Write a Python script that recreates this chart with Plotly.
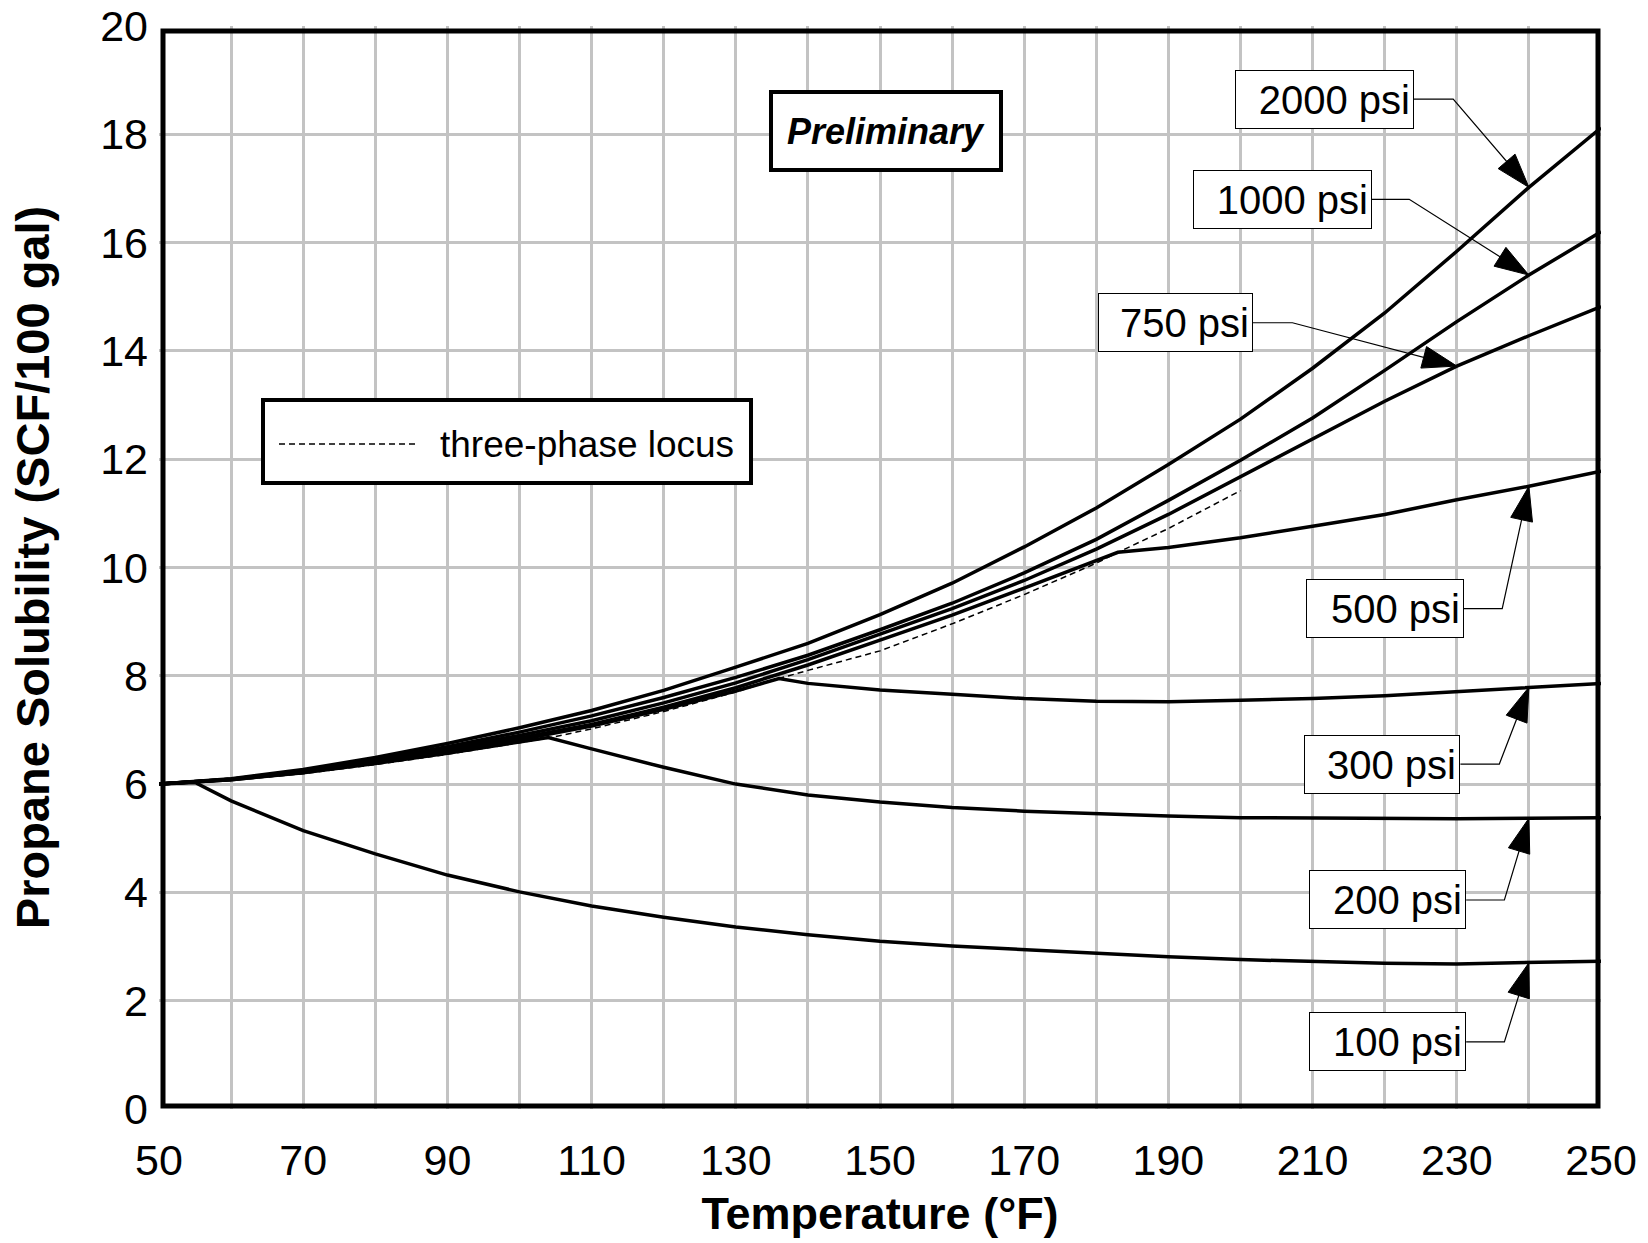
import numpy as np
import plotly.graph_objects as go

# ---------------- data ----------------
temps = [50, 60, 70, 80, 90, 100, 110, 120, 130, 140, 150, 160, 170, 180, 190, 200, 210, 220, 230, 240, 250]

sol_2000 = [6.0, 6.1, 6.27, 6.49, 6.75, 7.04, 7.36, 7.73, 8.16, 8.6, 9.13, 9.71, 10.38, 11.1, 11.9, 12.74, 13.68, 14.7, 15.84, 17.02, 18.12]
sol_1000 = [6.0, 6.09, 6.25, 6.45, 6.69, 6.96, 7.26, 7.6, 7.97, 8.38, 8.85, 9.34, 9.9, 10.52, 11.24, 11.98, 12.76, 13.64, 14.54, 15.4, 16.2]
sol_750 = [6.0, 6.09, 6.24, 6.43, 6.65, 6.9, 7.17, 7.5, 7.87, 8.3, 8.77, 9.24, 9.76, 10.34, 10.98, 11.68, 12.37, 13.07, 13.72, 14.28, 14.82]

t_500 = [50, 60, 70, 80, 90, 100, 110, 120, 130, 140, 150, 160, 170, 180, 183, 190, 200, 210, 220, 230, 240, 250]
sol_500 = [6.0, 6.09, 6.23, 6.41, 6.62, 6.85, 7.1, 7.42, 7.78, 8.2, 8.66, 9.12, 9.62, 10.12, 10.28, 10.37, 10.55, 10.76, 10.98, 11.25, 11.5, 11.78]

t_300 = [50, 60, 70, 80, 90, 100, 110, 120, 130, 136, 140, 150, 160, 170, 180, 190, 200, 210, 220, 230, 240, 250]
sol_300 = [6.0, 6.08, 6.22, 6.4, 6.6, 6.82, 7.07, 7.38, 7.72, 7.95, 7.86, 7.74, 7.66, 7.58, 7.53, 7.52, 7.55, 7.58, 7.63, 7.71, 7.79, 7.86]

t_200 = [50, 60, 70, 80, 90, 100, 104, 110, 120, 130, 140, 150, 160, 170, 180, 190, 200, 210, 220, 230, 240, 250]
sol_200 = [6.0, 6.08, 6.21, 6.38, 6.57, 6.77, 6.86, 6.65, 6.31, 6.0, 5.8, 5.67, 5.57, 5.5, 5.45, 5.41, 5.38, 5.37, 5.36, 5.36, 5.37, 5.38]

t_100 = [50, 55, 60, 70, 80, 90, 100, 110, 120, 130, 140, 150, 160, 170, 180, 190, 200, 210, 220, 230, 240, 250]
sol_100 = [6.0, 6.03, 5.69, 5.14, 4.71, 4.32, 4.01, 3.75, 3.54, 3.36, 3.22, 3.1, 3.01, 2.94, 2.88, 2.81, 2.76, 2.72, 2.69, 2.68, 2.7, 2.73]

t_locus = [50, 55, 60, 70, 80, 90, 100, 104, 110, 120, 130, 136, 140, 150, 160, 170, 180, 183, 190, 200]
sol_locus = [6.0, 6.03, 6.07, 6.19, 6.36, 6.55, 6.76, 6.85, 7.02, 7.34, 7.7, 7.95, 8.1, 8.46, 8.96, 9.5, 10.08, 10.28, 10.72, 11.42]

series_names = ["2000 psi", "1000 psi", "750 psi", "500 psi", "300 psi", "200 psi", "100 psi"]
series_x = [temps, temps, temps, t_500, t_300, t_200, t_100]
series_y = [sol_2000, sol_1000, sol_750, sol_500, sol_300, sol_200, sol_100]

locus_name = "three-phase locus"
note_text = "Preliminary"

x_tick_labels = [50, 70, 90, 110, 130, 150, 170, 190, 210, 230, 250]
x_grid = [60, 70, 80, 90, 100, 110, 120, 130, 140, 150, 160, 170, 180, 190, 200, 210, 220, 230, 240]
y_tick_labels = [0, 2, 4, 6, 8, 10, 12, 14, 16, 18, 20]
y_grid = [2, 4, 6, 8, 10, 12, 14, 16, 18]

# ---------------- label placement (layout, not data) ----------------
label_right = [224.0, 218.2, 201.7, 231.0, 230.5, 231.3, 231.3]
label_y = [18.65, 16.8, 14.52, 9.24, 6.37, 3.86, 1.24]
elbow_x = [229.5, 223.4, 207.2, 236.3, 235.9, 236.6, 236.6]
point_t = [240, 240, 230, 240, 240, 240, 240]
box_w = [171, 171, 147, 150, 148, 149, 149]

FONT = "Liberation Sans, Arial, sans-serif"

W, H = 1648, 1243
ML, MR, MT, MB = 159, 47, 26, 134
PW, PH = W - ML - MR, H - MT - MB


def px_x(p):
    return (p - ML) / PW


def px_y(p):
    return (H - MB - p) / PH


fig = go.Figure()

fig.add_trace(go.Scatter(
    x=t_locus, y=sol_locus, mode="lines", name=locus_name,
    line=dict(color="black", width=1.5, dash="6px,4px"), showlegend=False,
    hoverinfo="skip"))

for name, xs, ys in zip(series_names, series_x, series_y):
    fig.add_trace(go.Scatter(x=xs, y=ys, mode="lines", name=name,
                             line=dict(color="black", width=3.5),
                             showlegend=False))

annotations = []
shapes = []
for name, xs, ys, lr, ly, ex, pt, bw in zip(series_names, series_x, series_y,
                                            label_right, label_y, elbow_x, point_t, box_w):
    tip_y = float(np.interp(pt, xs, ys))
    # leader line with arrowhead pointing at the curve
    fig.add_trace(go.Scatter(
        x=[lr, ex, pt], y=[ly, ly, tip_y], mode="lines+markers",
        line=dict(color="black", width=1.2),
        marker=dict(symbol=["circle", "circle", "arrow"], size=[0, 0, 36],
                    angleref="previous", color="#000000", opacity=1,
                    line=dict(width=[0, 0, 1], color="#000000")),
        showlegend=False, hoverinfo="skip"))
    annotations.append(dict(
        x=lr, y=ly, xref="x", yref="y", xanchor="right", yanchor="middle",
        text=name, showarrow=False, align="right", width=bw, height=51,
        font=dict(family=FONT, size=40, color="black"),
        bgcolor="white", bordercolor="black", borderwidth=1, borderpad=3))

annotations.append(dict(
    x=150.8, y=18.07, xref="x", yref="y", xanchor="center", yanchor="middle",
    text="<b><i>" + note_text + "</i></b>", showarrow=False, width=218, height=66,
    font=dict(family=FONT, size=36, color="black"),
    bgcolor="white", bordercolor="black", borderwidth=4, borderpad=4))

# legend box (drawn by hand to match the long dashed sample)
shapes.append(dict(type="rect", xref="paper", yref="paper",
                   x0=px_x(263), x1=px_x(751), y0=px_y(483), y1=px_y(400),
                   line=dict(color="black", width=4), fillcolor="white", layer="above"))
shapes.append(dict(type="line", xref="paper", yref="paper",
                   x0=px_x(279), x1=px_x(418), y0=px_y(444), y1=px_y(444),
                   line=dict(color="black", width=1.5, dash="6px,4px"), layer="above"))
annotations.append(dict(
    x=px_x(438), y=px_y(444), xref="paper", yref="paper", xanchor="left", yanchor="middle",
    text=locus_name, showarrow=False, font=dict(family=FONT, size=37, color="black")))

# plot frame (slightly inset as in the reference)
shapes.append(dict(type="rect", xref="paper", yref="paper",
                   x0=px_x(163), x1=px_x(1598), y0=px_y(1106), y1=px_y(31),
                   line=dict(color="black", width=5), layer="above"))

grid_col = "#c3c3c3"
fig.update_layout(
    width=W, height=H,
    margin=dict(l=ML, r=MR, t=MT, b=MB),
    paper_bgcolor="white", plot_bgcolor="white",
    font=dict(family=FONT, color="black"),
    annotations=annotations, shapes=shapes,
    showlegend=False,
    xaxis=dict(range=[50, 250], tickvals=x_tick_labels, ticktext=[str(v) for v in x_tick_labels],
               showgrid=False, automargin=False,
               minor=dict(tickvals=x_grid, showgrid=True, gridcolor=grid_col, gridwidth=3, ticks=""),
               zeroline=False, showline=False, ticks="",
               tickfont=dict(family=FONT, size=43, color="black"),
               ticklabelstandoff=22,
               title=dict(text="<b>Temperature (°F)</b>", font=dict(family=FONT, size=45, color="black"),
                          standoff=14)),
    yaxis=dict(range=[0, 20], tickvals=y_tick_labels, ticktext=[str(v) for v in y_tick_labels],
               showgrid=False, automargin=False,
               minor=dict(tickvals=y_grid, showgrid=True, gridcolor=grid_col, gridwidth=3, ticks=""),
               zeroline=False, showline=False, ticks="",
               tickfont=dict(family=FONT, size=43, color="black"),
               ticklabelstandoff=10,
               title=dict(text="<b>Propane Solubility (SCF/100 gal)</b>",
                          font=dict(family=FONT, size=47, color="black"), standoff=35)),
)

fig.write_html("out.html")
